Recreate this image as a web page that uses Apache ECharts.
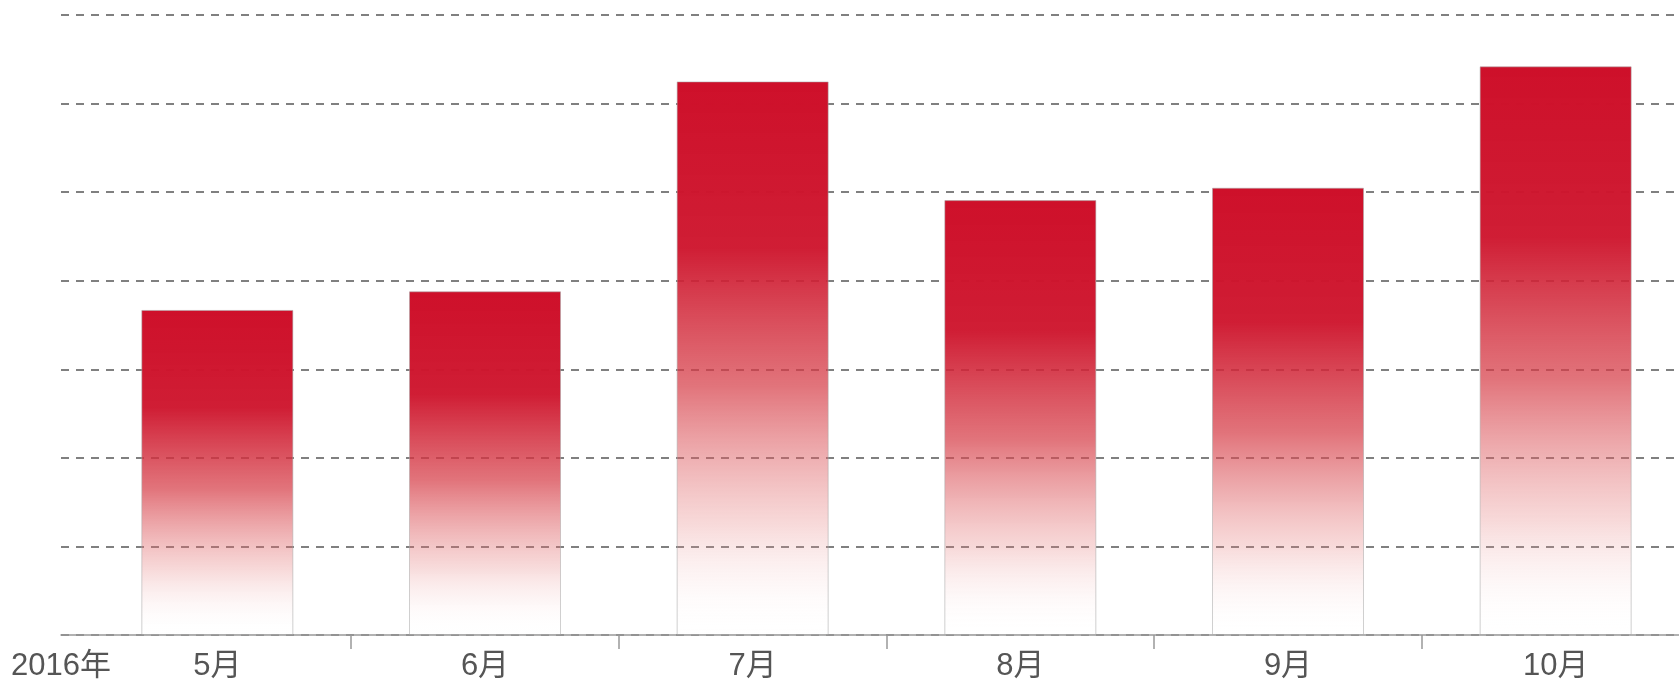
<!DOCTYPE html>
<html>
<head>
    <meta charset="utf-8">
    <title>月度柱状图</title>
    <script src="https://cdn.jsdelivr.net/npm/echarts/dist/echarts.min.js"></script>
    <style>
        html, body { margin: 0; padding: 0; background: #fff; }
    </style>
</head>
<body>
<div id="chart-container" style="width: 1679px; height: 681px;"></div>
<script>
    // 数据
    var yearLabel = '2016年';
    var months = ['5月', '6月', '7月', '8月', '9月', '10月'];
    var values = [367, 388, 625, 491, 505, 642];
    var yMax = 700;
    var yStep = 100;

    // 柱子渐变色
    var barColor = new echarts.graphic.LinearGradient(0, 0, 0, 1, [
        { offset: 0, color: 'rgba(206, 16, 42, 1)' },
        { offset: 0.3, color: 'rgba(206, 22, 46, 0.97)' },
        { offset: 0.55, color: 'rgba(214, 62, 72, 0.72)' },
        { offset: 0.8, color: 'rgba(228, 120, 120, 0.28)' },
        { offset: 1, color: 'rgba(255, 255, 255, 0)' }
    ]);

    var labelFont = 'Liberation Sans, Noto Sans CJK SC';

    var option1 = {
        animation: false,
        grid: [
            // 网格线和底部轴线
            { left: 61, width: 1630, top: 15, bottom: 46, outerBoundsMode: 'none' },
            // 柱子（右侧超出画布）
            { left: 83.5, width: 1606, top: 15, bottom: 46, outerBoundsMode: 'none' }
        ],
        graphic: [
            {
                type: 'text',
                left: 11,
                top: 651,
                style: {
                    text: yearLabel,
                    fontSize: 31,
                    fontFamily: labelFont,
                    fill: '#555'
                }
            }
        ],
        xAxis: [
            {
                gridIndex: 0,
                type: 'value',
                min: 0,
                max: 1,
                axisLine: { show: true, lineStyle: { color: '#999', width: 1.5 } },
                axisTick: { show: false },
                axisLabel: { show: false },
                splitLine: { show: false }
            },
            {
                gridIndex: 1,
                type: 'category',
                data: months,
                axisLine: { show: false },
                axisTick: {
                    show: true,
                    length: 14,
                    interval: function (index) { return index > 0; },
                    lineStyle: { color: '#999', width: 1.5 }
                },
                axisLabel: {
                    margin: 16,
                    fontSize: 31,
                    fontFamily: labelFont,
                    color: '#555'
                }
            }
        ],
        yAxis: [
            {
                gridIndex: 0,
                type: 'value',
                min: 0,
                max: yMax,
                interval: yStep,
                axisLine: { show: false },
                axisTick: { show: false },
                axisLabel: { show: false },
                splitLine: {
                    show: true,
                    lineStyle: { color: '#808080', width: 2, type: [8, 7] }
                }
            },
            {
                gridIndex: 1,
                type: 'value',
                min: 0,
                max: yMax,
                interval: yStep,
                show: false,
                splitLine: { show: false }
            }
        ],
        series: [
            {
                name: '数值',
                type: 'bar',
                xAxisIndex: 1,
                yAxisIndex: 1,
                barWidth: 152,
                itemStyle: {
                    color: barColor,
                    borderColor: 'rgba(170, 170, 170, 0.55)',
                    borderWidth: 1
                },
                data: values
            }
        ]
    };

    var chart = echarts.init(document.getElementById('chart-container'));
    chart.setOption(option1);
</script>
</body>
</html>
